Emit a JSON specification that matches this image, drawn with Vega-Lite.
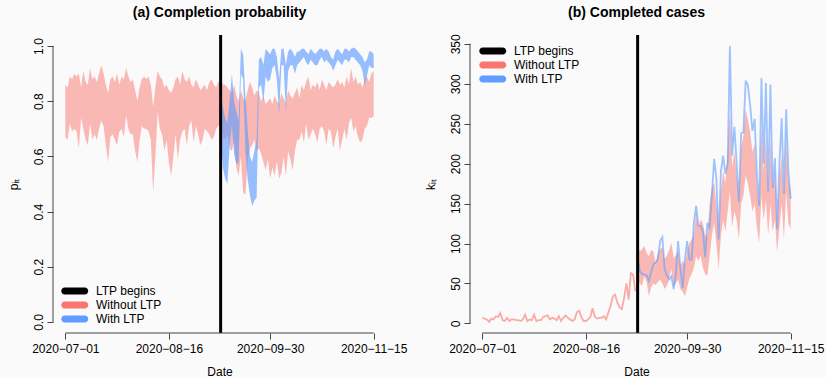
{
"$schema":"https://vega.github.io/schema/vega-lite/v6.json",
"background":"#fafafa",
"padding":{"left":7,"top":5,"right":5,"bottom":5},
"config":{"font":"Liberation Sans","view":{"stroke":null},
 "axis":{"grid":false,"domain":false,"tickColor":"#444","tickSize":6,"labelFontSize":12,"labelColor":"black","titleFontSize":12,"titleFontWeight":"normal","titleColor":"black","labelFont":"Liberation Sans","titleFont":"Liberation Sans","labelFlush":false,"labelOverlap":false},
 "legend":{"title":null,"symbolType":"M-0.48,-0.52 L2.48,-0.52 A0.52,0.52 0 0 1 2.48,0.52 L-0.48,0.52 A0.52,0.52 0 0 1 -0.48,-0.52 Z","symbolSize":182,"symbolOpacity":1,"symbolStrokeWidth":0,"labelFontSize":12,"labelFont":"Liberation Sans","labelColor":"black","rowPadding":1,"labelOffset":21,"padding":0},
 "title":{"fontSize":14,"font":"Liberation Sans","fontWeight":"bold","color":"black"}},
"datasets":{
"left":[
{"t":"2020-07-01","s":"Without LTP","lo":0.67,"hi":0.86},{"t":"2020-07-02","s":"Without LTP","lo":0.66,"hi":0.85},{"t":"2020-07-03","s":"Without LTP","lo":0.72,"hi":0.89},{"t":"2020-07-04","s":"Without LTP","lo":0.69,"hi":0.88},{"t":"2020-07-05","s":"Without LTP","lo":0.70,"hi":0.90},{"t":"2020-07-06","s":"Without LTP","lo":0.69,"hi":0.89},{"t":"2020-07-07","s":"Without LTP","lo":0.63,"hi":0.90},{"t":"2020-07-08","s":"Without LTP","lo":0.74,"hi":0.85},{"t":"2020-07-09","s":"Without LTP","lo":0.70,"hi":0.91},{"t":"2020-07-10","s":"Without LTP","lo":0.66,"hi":0.87},
{"t":"2020-07-11","s":"Without LTP","lo":0.64,"hi":0.86},{"t":"2020-07-12","s":"Without LTP","lo":0.72,"hi":0.92},{"t":"2020-07-13","s":"Without LTP","lo":0.66,"hi":0.88},{"t":"2020-07-14","s":"Without LTP","lo":0.68,"hi":0.89},{"t":"2020-07-15","s":"Without LTP","lo":0.66,"hi":0.87},{"t":"2020-07-16","s":"Without LTP","lo":0.70,"hi":0.90},{"t":"2020-07-17","s":"Without LTP","lo":0.73,"hi":0.93},{"t":"2020-07-18","s":"Without LTP","lo":0.71,"hi":0.90},{"t":"2020-07-19","s":"Without LTP","lo":0.64,"hi":0.86},{"t":"2020-07-20","s":"Without LTP","lo":0.58,"hi":0.83},
{"t":"2020-07-21","s":"Without LTP","lo":0.67,"hi":0.88},{"t":"2020-07-22","s":"Without LTP","lo":0.68,"hi":0.89},{"t":"2020-07-23","s":"Without LTP","lo":0.66,"hi":0.87},{"t":"2020-07-24","s":"Without LTP","lo":0.64,"hi":0.90},{"t":"2020-07-25","s":"Without LTP","lo":0.69,"hi":0.86},{"t":"2020-07-26","s":"Without LTP","lo":0.70,"hi":0.89},{"t":"2020-07-27","s":"Without LTP","lo":0.67,"hi":0.88},{"t":"2020-07-28","s":"Without LTP","lo":0.75,"hi":0.92},{"t":"2020-07-29","s":"Without LTP","lo":0.70,"hi":0.89},{"t":"2020-07-30","s":"Without LTP","lo":0.68,"hi":0.87},
{"t":"2020-07-31","s":"Without LTP","lo":0.68,"hi":0.88},{"t":"2020-08-01","s":"Without LTP","lo":0.62,"hi":0.84},{"t":"2020-08-02","s":"Without LTP","lo":0.58,"hi":0.80},{"t":"2020-08-03","s":"Without LTP","lo":0.66,"hi":0.85},{"t":"2020-08-04","s":"Without LTP","lo":0.71,"hi":0.88},{"t":"2020-08-05","s":"Without LTP","lo":0.70,"hi":0.89},{"t":"2020-08-06","s":"Without LTP","lo":0.70,"hi":0.88},{"t":"2020-08-07","s":"Without LTP","lo":0.69,"hi":0.89},{"t":"2020-08-08","s":"Without LTP","lo":0.66,"hi":0.86},{"t":"2020-08-09","s":"Without LTP","lo":0.47,"hi":0.78},
{"t":"2020-08-10","s":"Without LTP","lo":0.60,"hi":0.85},{"t":"2020-08-11","s":"Without LTP","lo":0.76,"hi":0.91},{"t":"2020-08-12","s":"Without LTP","lo":0.70,"hi":0.89},{"t":"2020-08-13","s":"Without LTP","lo":0.68,"hi":0.88},{"t":"2020-08-14","s":"Without LTP","lo":0.62,"hi":0.85},{"t":"2020-08-15","s":"Without LTP","lo":0.66,"hi":0.86},{"t":"2020-08-16","s":"Without LTP","lo":0.58,"hi":0.84},{"t":"2020-08-17","s":"Without LTP","lo":0.53,"hi":0.83},{"t":"2020-08-18","s":"Without LTP","lo":0.60,"hi":0.85},{"t":"2020-08-19","s":"Without LTP","lo":0.68,"hi":0.88},
{"t":"2020-08-20","s":"Without LTP","lo":0.59,"hi":0.89},{"t":"2020-08-21","s":"Without LTP","lo":0.66,"hi":0.86},{"t":"2020-08-22","s":"Without LTP","lo":0.69,"hi":0.91},{"t":"2020-08-23","s":"Without LTP","lo":0.70,"hi":0.88},{"t":"2020-08-24","s":"Without LTP","lo":0.64,"hi":0.87},{"t":"2020-08-25","s":"Without LTP","lo":0.71,"hi":0.89},{"t":"2020-08-26","s":"Without LTP","lo":0.73,"hi":0.86},{"t":"2020-08-27","s":"Without LTP","lo":0.65,"hi":0.85},{"t":"2020-08-28","s":"Without LTP","lo":0.71,"hi":0.88},{"t":"2020-08-29","s":"Without LTP","lo":0.68,"hi":0.86},
{"t":"2020-08-30","s":"Without LTP","lo":0.64,"hi":0.84},{"t":"2020-08-31","s":"Without LTP","lo":0.66,"hi":0.85},{"t":"2020-09-01","s":"Without LTP","lo":0.70,"hi":0.86},{"t":"2020-09-02","s":"Without LTP","lo":0.69,"hi":0.84},{"t":"2020-09-03","s":"Without LTP","lo":0.68,"hi":0.87},{"t":"2020-09-04","s":"Without LTP","lo":0.66,"hi":0.88},{"t":"2020-09-05","s":"Without LTP","lo":0.67,"hi":0.86},{"t":"2020-09-06","s":"Without LTP","lo":0.70,"hi":0.85},{"t":"2020-09-07","s":"Without LTP","lo":0.71,"hi":0.87},{"t":"2020-09-08","s":"Without LTP","lo":0.71,"hi":0.88},
{"t":"2020-09-09","s":"Without LTP","lo":0.67,"hi":0.86},{"t":"2020-09-10","s":"Without LTP","lo":0.66,"hi":0.86},{"t":"2020-09-11","s":"Without LTP","lo":0.68,"hi":0.85},{"t":"2020-09-12","s":"Without LTP","lo":0.63,"hi":0.84},{"t":"2020-09-13","s":"Without LTP","lo":0.62,"hi":0.83},{"t":"2020-09-14","s":"Without LTP","lo":0.66,"hi":0.86},{"t":"2020-09-15","s":"Without LTP","lo":0.56,"hi":0.82},{"t":"2020-09-16","s":"Without LTP","lo":0.53,"hi":0.80},{"t":"2020-09-17","s":"Without LTP","lo":0.60,"hi":0.84},{"t":"2020-09-18","s":"Without LTP","lo":0.47,"hi":0.81},
{"t":"2020-09-19","s":"Without LTP","lo":0.46,"hi":0.80},{"t":"2020-09-20","s":"Without LTP","lo":0.58,"hi":0.84},{"t":"2020-09-21","s":"Without LTP","lo":0.63,"hi":0.87},{"t":"2020-09-22","s":"Without LTP","lo":0.64,"hi":0.85},{"t":"2020-09-23","s":"Without LTP","lo":0.66,"hi":0.82},{"t":"2020-09-24","s":"Without LTP","lo":0.62,"hi":0.84},{"t":"2020-09-25","s":"Without LTP","lo":0.63,"hi":0.83},{"t":"2020-09-26","s":"Without LTP","lo":0.61,"hi":0.80},{"t":"2020-09-27","s":"Without LTP","lo":0.58,"hi":0.82},{"t":"2020-09-28","s":"Without LTP","lo":0.55,"hi":0.79},
{"t":"2020-09-29","s":"Without LTP","lo":0.59,"hi":0.80},{"t":"2020-09-30","s":"Without LTP","lo":0.52,"hi":0.81},{"t":"2020-10-01","s":"Without LTP","lo":0.56,"hi":0.79},{"t":"2020-10-02","s":"Without LTP","lo":0.53,"hi":0.82},{"t":"2020-10-03","s":"Without LTP","lo":0.58,"hi":0.80},{"t":"2020-10-04","s":"Without LTP","lo":0.52,"hi":0.79},{"t":"2020-10-05","s":"Without LTP","lo":0.54,"hi":0.83},{"t":"2020-10-06","s":"Without LTP","lo":0.60,"hi":0.81},{"t":"2020-10-07","s":"Without LTP","lo":0.53,"hi":0.79},{"t":"2020-10-08","s":"Without LTP","lo":0.62,"hi":0.84},
{"t":"2020-10-09","s":"Without LTP","lo":0.59,"hi":0.82},{"t":"2020-10-10","s":"Without LTP","lo":0.55,"hi":0.81},{"t":"2020-10-11","s":"Without LTP","lo":0.62,"hi":0.83},{"t":"2020-10-12","s":"Without LTP","lo":0.66,"hi":0.85},{"t":"2020-10-13","s":"Without LTP","lo":0.66,"hi":0.81},{"t":"2020-10-14","s":"Without LTP","lo":0.69,"hi":0.86},{"t":"2020-10-15","s":"Without LTP","lo":0.65,"hi":0.84},{"t":"2020-10-16","s":"Without LTP","lo":0.72,"hi":0.87},{"t":"2020-10-17","s":"Without LTP","lo":0.66,"hi":0.89},{"t":"2020-10-18","s":"Without LTP","lo":0.68,"hi":0.84},
{"t":"2020-10-19","s":"Without LTP","lo":0.70,"hi":0.86},{"t":"2020-10-20","s":"Without LTP","lo":0.68,"hi":0.85},{"t":"2020-10-21","s":"Without LTP","lo":0.65,"hi":0.87},{"t":"2020-10-22","s":"Without LTP","lo":0.70,"hi":0.84},{"t":"2020-10-23","s":"Without LTP","lo":0.71,"hi":0.88},{"t":"2020-10-24","s":"Without LTP","lo":0.69,"hi":0.86},{"t":"2020-10-25","s":"Without LTP","lo":0.64,"hi":0.84},{"t":"2020-10-26","s":"Without LTP","lo":0.70,"hi":0.87},{"t":"2020-10-27","s":"Without LTP","lo":0.69,"hi":0.86},{"t":"2020-10-28","s":"Without LTP","lo":0.63,"hi":0.85},
{"t":"2020-10-29","s":"Without LTP","lo":0.67,"hi":0.86},{"t":"2020-10-30","s":"Without LTP","lo":0.70,"hi":0.88},{"t":"2020-10-31","s":"Without LTP","lo":0.62,"hi":0.86},{"t":"2020-11-01","s":"Without LTP","lo":0.66,"hi":0.87},{"t":"2020-11-02","s":"Without LTP","lo":0.70,"hi":0.85},{"t":"2020-11-03","s":"Without LTP","lo":0.66,"hi":0.89},{"t":"2020-11-04","s":"Without LTP","lo":0.72,"hi":0.86},{"t":"2020-11-05","s":"Without LTP","lo":0.74,"hi":0.92},{"t":"2020-11-06","s":"Without LTP","lo":0.69,"hi":0.87},{"t":"2020-11-07","s":"Without LTP","lo":0.71,"hi":0.89},
{"t":"2020-11-08","s":"Without LTP","lo":0.67,"hi":0.86},{"t":"2020-11-09","s":"Without LTP","lo":0.65,"hi":0.87},{"t":"2020-11-10","s":"Without LTP","lo":0.66,"hi":0.85},{"t":"2020-11-11","s":"Without LTP","lo":0.70,"hi":0.88},{"t":"2020-11-12","s":"Without LTP","lo":0.71,"hi":0.89},{"t":"2020-11-13","s":"Without LTP","lo":0.74,"hi":0.87},{"t":"2020-11-14","s":"Without LTP","lo":0.74,"hi":0.90},{"t":"2020-11-15","s":"Without LTP","lo":0.745,"hi":0.91},
{"t":"2020-09-08","s":"With LTP","lo":0.68,"hi":0.84},{"t":"2020-09-09","s":"With LTP","lo":0.56,"hi":0.78},{"t":"2020-09-10","s":"With LTP","lo":0.52,"hi":0.74},{"t":"2020-09-11","s":"With LTP","lo":0.50,"hi":0.72},{"t":"2020-09-12","s":"With LTP","lo":0.64,"hi":0.80},{"t":"2020-09-13","s":"With LTP","lo":0.71,"hi":0.90},{"t":"2020-09-14","s":"With LTP","lo":0.61,"hi":0.80},{"t":"2020-09-15","s":"With LTP","lo":0.57,"hi":0.76},{"t":"2020-09-16","s":"With LTP","lo":0.58,"hi":0.73},{"t":"2020-09-17","s":"With LTP","lo":0.90,"hi":0.99},
{"t":"2020-09-18","s":"With LTP","lo":0.88,"hi":0.97},{"t":"2020-09-19","s":"With LTP","lo":0.62,"hi":0.82},{"t":"2020-09-20","s":"With LTP","lo":0.52,"hi":0.70},{"t":"2020-09-21","s":"With LTP","lo":0.46,"hi":0.60},{"t":"2020-09-22","s":"With LTP","lo":0.42,"hi":0.58},{"t":"2020-09-23","s":"With LTP","lo":0.44,"hi":0.62},{"t":"2020-09-24","s":"With LTP","lo":0.45,"hi":0.66},{"t":"2020-09-25","s":"With LTP","lo":0.85,"hi":0.95},{"t":"2020-09-26","s":"With LTP","lo":0.86,"hi":0.96},{"t":"2020-09-27","s":"With LTP","lo":0.80,"hi":0.93},
{"t":"2020-09-28","s":"With LTP","lo":0.89,"hi":0.99},{"t":"2020-09-29","s":"With LTP","lo":0.87,"hi":0.98},{"t":"2020-09-30","s":"With LTP","lo":0.88,"hi":0.97},{"t":"2020-10-01","s":"With LTP","lo":0.92,"hi":0.99},{"t":"2020-10-02","s":"With LTP","lo":0.93,"hi":0.99},{"t":"2020-10-03","s":"With LTP","lo":0.88,"hi":0.96},{"t":"2020-10-04","s":"With LTP","lo":0.75,"hi":0.88},{"t":"2020-10-05","s":"With LTP","lo":0.93,"hi":0.99},{"t":"2020-10-06","s":"With LTP","lo":0.93,"hi":0.99},{"t":"2020-10-07","s":"With LTP","lo":0.76,"hi":0.93},
{"t":"2020-10-08","s":"With LTP","lo":0.91,"hi":0.98},{"t":"2020-10-09","s":"With LTP","lo":0.93,"hi":0.99},{"t":"2020-10-10","s":"With LTP","lo":0.93,"hi":0.98},{"t":"2020-10-11","s":"With LTP","lo":0.90,"hi":0.96},{"t":"2020-10-12","s":"With LTP","lo":0.93,"hi":0.98},{"t":"2020-10-13","s":"With LTP","lo":0.94,"hi":0.98},{"t":"2020-10-14","s":"With LTP","lo":0.95,"hi":0.99},{"t":"2020-10-15","s":"With LTP","lo":0.96,"hi":0.99},{"t":"2020-10-16","s":"With LTP","lo":0.94,"hi":0.98},{"t":"2020-10-17","s":"With LTP","lo":0.93,"hi":0.97},
{"t":"2020-10-18","s":"With LTP","lo":0.95,"hi":0.99},{"t":"2020-10-19","s":"With LTP","lo":0.94,"hi":0.98},{"t":"2020-10-20","s":"With LTP","lo":0.93,"hi":0.97},{"t":"2020-10-21","s":"With LTP","lo":0.93,"hi":0.98},{"t":"2020-10-22","s":"With LTP","lo":0.95,"hi":0.99},{"t":"2020-10-23","s":"With LTP","lo":0.96,"hi":0.99},{"t":"2020-10-24","s":"With LTP","lo":0.94,"hi":0.98},{"t":"2020-10-25","s":"With LTP","lo":0.95,"hi":0.99},{"t":"2020-10-26","s":"With LTP","lo":0.94,"hi":0.98},{"t":"2020-10-27","s":"With LTP","lo":0.93,"hi":0.96},
{"t":"2020-10-28","s":"With LTP","lo":0.91,"hi":0.95},{"t":"2020-10-29","s":"With LTP","lo":0.93,"hi":0.98},{"t":"2020-10-30","s":"With LTP","lo":0.95,"hi":0.99},{"t":"2020-10-31","s":"With LTP","lo":0.94,"hi":0.98},{"t":"2020-11-01","s":"With LTP","lo":0.93,"hi":0.97},{"t":"2020-11-02","s":"With LTP","lo":0.95,"hi":0.99},{"t":"2020-11-03","s":"With LTP","lo":0.95,"hi":0.99},{"t":"2020-11-04","s":"With LTP","lo":0.94,"hi":0.98},{"t":"2020-11-05","s":"With LTP","lo":0.96,"hi":0.99},{"t":"2020-11-06","s":"With LTP","lo":0.96,"hi":0.995},
{"t":"2020-11-07","s":"With LTP","lo":0.95,"hi":0.99},{"t":"2020-11-08","s":"With LTP","lo":0.94,"hi":0.98},{"t":"2020-11-09","s":"With LTP","lo":0.93,"hi":0.97},{"t":"2020-11-10","s":"With LTP","lo":0.91,"hi":0.96},{"t":"2020-11-11","s":"With LTP","lo":0.86,"hi":0.94},{"t":"2020-11-12","s":"With LTP","lo":0.89,"hi":0.95},{"t":"2020-11-13","s":"With LTP","lo":0.93,"hi":0.98},{"t":"2020-11-14","s":"With LTP","lo":0.92,"hi":0.98},{"t":"2020-11-15","s":"With LTP","lo":0.92,"hi":0.97}
],
"right":[
{"t":"2020-07-01","s":"Without LTP","k":"line","v":7},{"t":"2020-07-02","s":"Without LTP","k":"line","v":6},{"t":"2020-07-03","s":"Without LTP","k":"line","v":5},{"t":"2020-07-04","s":"Without LTP","k":"line","v":2},{"t":"2020-07-05","s":"Without LTP","k":"line","v":6},{"t":"2020-07-06","s":"Without LTP","k":"line","v":5},{"t":"2020-07-07","s":"Without LTP","k":"line","v":9},{"t":"2020-07-08","s":"Without LTP","k":"line","v":8},{"t":"2020-07-09","s":"Without LTP","k":"line","v":13},{"t":"2020-07-10","s":"Without LTP","k":"line","v":4},
{"t":"2020-07-11","s":"Without LTP","k":"line","v":3},{"t":"2020-07-12","s":"Without LTP","k":"line","v":7},{"t":"2020-07-13","s":"Without LTP","k":"line","v":3},{"t":"2020-07-14","s":"Without LTP","k":"line","v":5},{"t":"2020-07-15","s":"Without LTP","k":"line","v":5},{"t":"2020-07-16","s":"Without LTP","k":"line","v":4},{"t":"2020-07-17","s":"Without LTP","k":"line","v":4},{"t":"2020-07-18","s":"Without LTP","k":"line","v":3},{"t":"2020-07-19","s":"Without LTP","k":"line","v":5},{"t":"2020-07-20","s":"Without LTP","k":"line","v":11},
{"t":"2020-07-21","s":"Without LTP","k":"line","v":3},{"t":"2020-07-22","s":"Without LTP","k":"line","v":5},{"t":"2020-07-23","s":"Without LTP","k":"line","v":4},{"t":"2020-07-24","s":"Without LTP","k":"line","v":11},{"t":"2020-07-25","s":"Without LTP","k":"line","v":3},{"t":"2020-07-26","s":"Without LTP","k":"line","v":4},{"t":"2020-07-27","s":"Without LTP","k":"line","v":4},{"t":"2020-07-28","s":"Without LTP","k":"line","v":8},{"t":"2020-07-29","s":"Without LTP","k":"line","v":9},{"t":"2020-07-30","s":"Without LTP","k":"line","v":10},
{"t":"2020-07-31","s":"Without LTP","k":"line","v":5},{"t":"2020-08-01","s":"Without LTP","k":"line","v":7},{"t":"2020-08-02","s":"Without LTP","k":"line","v":6},{"t":"2020-08-03","s":"Without LTP","k":"line","v":4},{"t":"2020-08-04","s":"Without LTP","k":"line","v":9},{"t":"2020-08-05","s":"Without LTP","k":"line","v":3},{"t":"2020-08-06","s":"Without LTP","k":"line","v":7},{"t":"2020-08-07","s":"Without LTP","k":"line","v":10},{"t":"2020-08-08","s":"Without LTP","k":"line","v":7},{"t":"2020-08-09","s":"Without LTP","k":"line","v":5},
{"t":"2020-08-10","s":"Without LTP","k":"line","v":3},{"t":"2020-08-11","s":"Without LTP","k":"line","v":5},{"t":"2020-08-12","s":"Without LTP","k":"line","v":14},{"t":"2020-08-13","s":"Without LTP","k":"line","v":16},{"t":"2020-08-14","s":"Without LTP","k":"line","v":8},{"t":"2020-08-15","s":"Without LTP","k":"line","v":3},{"t":"2020-08-16","s":"Without LTP","k":"line","v":3},{"t":"2020-08-17","s":"Without LTP","k":"line","v":5},{"t":"2020-08-18","s":"Without LTP","k":"line","v":8},{"t":"2020-08-19","s":"Without LTP","k":"line","v":19},
{"t":"2020-08-20","s":"Without LTP","k":"line","v":8},{"t":"2020-08-21","s":"Without LTP","k":"line","v":6},{"t":"2020-08-22","s":"Without LTP","k":"line","v":7},{"t":"2020-08-23","s":"Without LTP","k":"line","v":7},{"t":"2020-08-24","s":"Without LTP","k":"line","v":9},{"t":"2020-08-25","s":"Without LTP","k":"line","v":5},{"t":"2020-08-26","s":"Without LTP","k":"line","v":14},{"t":"2020-08-27","s":"Without LTP","k":"line","v":22},{"t":"2020-08-28","s":"Without LTP","k":"line","v":34},{"t":"2020-08-29","s":"Without LTP","k":"line","v":36},
{"t":"2020-08-30","s":"Without LTP","k":"line","v":26},{"t":"2020-08-31","s":"Without LTP","k":"line","v":20},{"t":"2020-09-01","s":"Without LTP","k":"line","v":18},{"t":"2020-09-02","s":"Without LTP","k":"line","v":32},{"t":"2020-09-03","s":"Without LTP","k":"line","v":50},{"t":"2020-09-04","s":"Without LTP","k":"line","v":30},{"t":"2020-09-05","s":"Without LTP","k":"line","v":63},{"t":"2020-09-06","s":"Without LTP","k":"line","v":61},{"t":"2020-09-07","s":"Without LTP","k":"line","v":40},
{"t":"2020-09-08","s":"Without LTP","k":"band","lo":55,"hi":97},{"t":"2020-09-09","s":"Without LTP","k":"band","lo":50,"hi":90},{"t":"2020-09-10","s":"Without LTP","k":"band","lo":47,"hi":93},{"t":"2020-09-11","s":"Without LTP","k":"band","lo":59,"hi":97},{"t":"2020-09-12","s":"Without LTP","k":"band","lo":52,"hi":88},{"t":"2020-09-13","s":"Without LTP","k":"band","lo":34,"hi":84},{"t":"2020-09-14","s":"Without LTP","k":"band","lo":45,"hi":92},{"t":"2020-09-15","s":"Without LTP","k":"band","lo":50,"hi":90},{"t":"2020-09-16","s":"Without LTP","k":"band","lo":48,"hi":76},{"t":"2020-09-17","s":"Without LTP","k":"band","lo":52,"hi":88},
{"t":"2020-09-18","s":"Without LTP","k":"band","lo":55,"hi":93},{"t":"2020-09-19","s":"Without LTP","k":"band","lo":50,"hi":95},{"t":"2020-09-20","s":"Without LTP","k":"band","lo":43,"hi":80},{"t":"2020-09-21","s":"Without LTP","k":"band","lo":47,"hi":85},{"t":"2020-09-22","s":"Without LTP","k":"band","lo":55,"hi":92},{"t":"2020-09-23","s":"Without LTP","k":"band","lo":68,"hi":101},{"t":"2020-09-24","s":"Without LTP","k":"band","lo":46,"hi":82},{"t":"2020-09-25","s":"Without LTP","k":"band","lo":50,"hi":85},{"t":"2020-09-26","s":"Without LTP","k":"band","lo":55,"hi":90},{"t":"2020-09-27","s":"Without LTP","k":"band","lo":43,"hi":72},
{"t":"2020-09-28","s":"Without LTP","k":"band","lo":40,"hi":78},{"t":"2020-09-29","s":"Without LTP","k":"band","lo":34,"hi":74},{"t":"2020-09-30","s":"Without LTP","k":"band","lo":45,"hi":90},{"t":"2020-10-01","s":"Without LTP","k":"band","lo":56,"hi":100},{"t":"2020-10-02","s":"Without LTP","k":"band","lo":62,"hi":105},{"t":"2020-10-03","s":"Without LTP","k":"band","lo":70,"hi":110},{"t":"2020-10-04","s":"Without LTP","k":"band","lo":84,"hi":140},{"t":"2020-10-05","s":"Without LTP","k":"band","lo":78,"hi":120},{"t":"2020-10-06","s":"Without LTP","k":"band","lo":85,"hi":130},{"t":"2020-10-07","s":"Without LTP","k":"band","lo":70,"hi":125},
{"t":"2020-10-08","s":"Without LTP","k":"band","lo":62,"hi":110},{"t":"2020-10-09","s":"Without LTP","k":"band","lo":60,"hi":110},{"t":"2020-10-10","s":"Without LTP","k":"band","lo":85,"hi":150},{"t":"2020-10-11","s":"Without LTP","k":"band","lo":110,"hi":170},{"t":"2020-10-12","s":"Without LTP","k":"band","lo":126,"hi":176},{"t":"2020-10-13","s":"Without LTP","k":"band","lo":100,"hi":150},{"t":"2020-10-14","s":"Without LTP","k":"band","lo":68,"hi":120},{"t":"2020-10-15","s":"Without LTP","k":"band","lo":110,"hi":165},{"t":"2020-10-16","s":"Without LTP","k":"band","lo":130,"hi":190},{"t":"2020-10-17","s":"Without LTP","k":"band","lo":115,"hi":175},
{"t":"2020-10-18","s":"Without LTP","k":"band","lo":140,"hi":215},{"t":"2020-10-19","s":"Without LTP","k":"band","lo":165,"hi":265},{"t":"2020-10-20","s":"Without LTP","k":"band","lo":120,"hi":195},{"t":"2020-10-21","s":"Without LTP","k":"band","lo":140,"hi":215},{"t":"2020-10-22","s":"Without LTP","k":"band","lo":130,"hi":185},{"t":"2020-10-23","s":"Without LTP","k":"band","lo":105,"hi":165},{"t":"2020-10-24","s":"Without LTP","k":"band","lo":150,"hi":220},{"t":"2020-10-25","s":"Without LTP","k":"band","lo":160,"hi":235},{"t":"2020-10-26","s":"Without LTP","k":"band","lo":185,"hi":268},{"t":"2020-10-27","s":"Without LTP","k":"band","lo":175,"hi":255},
{"t":"2020-10-28","s":"Without LTP","k":"band","lo":160,"hi":240},{"t":"2020-10-29","s":"Without LTP","k":"band","lo":140,"hi":215},{"t":"2020-10-30","s":"Without LTP","k":"band","lo":150,"hi":225},{"t":"2020-10-31","s":"Without LTP","k":"band","lo":120,"hi":170},{"t":"2020-11-01","s":"Without LTP","k":"band","lo":100,"hi":150},{"t":"2020-11-02","s":"Without LTP","k":"band","lo":160,"hi":245},{"t":"2020-11-03","s":"Without LTP","k":"band","lo":130,"hi":190},{"t":"2020-11-04","s":"Without LTP","k":"band","lo":155,"hi":235},{"t":"2020-11-05","s":"Without LTP","k":"band","lo":110,"hi":165},{"t":"2020-11-06","s":"Without LTP","k":"band","lo":150,"hi":230},
{"t":"2020-11-07","s":"Without LTP","k":"band","lo":115,"hi":170},{"t":"2020-11-08","s":"Without LTP","k":"band","lo":130,"hi":190},{"t":"2020-11-09","s":"Without LTP","k":"band","lo":89,"hi":125},{"t":"2020-11-10","s":"Without LTP","k":"band","lo":120,"hi":180},{"t":"2020-11-11","s":"Without LTP","k":"band","lo":150,"hi":210},{"t":"2020-11-12","s":"Without LTP","k":"band","lo":105,"hi":160},{"t":"2020-11-13","s":"Without LTP","k":"band","lo":165,"hi":230},{"t":"2020-11-14","s":"Without LTP","k":"band","lo":125,"hi":180},{"t":"2020-11-15","s":"Without LTP","k":"band","lo":118,"hi":165},
{"t":"2020-09-08","s":"With LTP","k":"line","v":82},{"t":"2020-09-09","s":"With LTP","k":"line","v":65},{"t":"2020-09-10","s":"With LTP","k":"line","v":62},{"t":"2020-09-11","s":"With LTP","k":"line","v":61},{"t":"2020-09-12","s":"With LTP","k":"line","v":60},{"t":"2020-09-13","s":"With LTP","k":"line","v":53},{"t":"2020-09-14","s":"With LTP","k":"line","v":64},{"t":"2020-09-15","s":"With LTP","k":"line","v":74},{"t":"2020-09-16","s":"With LTP","k":"line","v":76},{"t":"2020-09-17","s":"With LTP","k":"line","v":80},
{"t":"2020-09-18","s":"With LTP","k":"line","v":103},{"t":"2020-09-19","s":"With LTP","k":"line","v":108},{"t":"2020-09-20","s":"With LTP","k":"line","v":68},{"t":"2020-09-21","s":"With LTP","k":"line","v":60},{"t":"2020-09-22","s":"With LTP","k":"line","v":55},{"t":"2020-09-23","s":"With LTP","k":"line","v":59},{"t":"2020-09-24","s":"With LTP","k":"line","v":43},{"t":"2020-09-25","s":"With LTP","k":"line","v":62},{"t":"2020-09-26","s":"With LTP","k":"line","v":103},{"t":"2020-09-27","s":"With LTP","k":"line","v":68},
{"t":"2020-09-28","s":"With LTP","k":"line","v":44},{"t":"2020-09-29","s":"With LTP","k":"line","v":80},{"t":"2020-09-30","s":"With LTP","k":"line","v":103},{"t":"2020-10-01","s":"With LTP","k":"line","v":80},{"t":"2020-10-02","s":"With LTP","k":"line","v":80},{"t":"2020-10-03","s":"With LTP","k":"line","v":126},{"t":"2020-10-04","s":"With LTP","k":"line","v":147},{"t":"2020-10-05","s":"With LTP","k":"line","v":122},{"t":"2020-10-06","s":"With LTP","k":"line","v":122},{"t":"2020-10-07","s":"With LTP","k":"line","v":115},
{"t":"2020-10-08","s":"With LTP","k":"line","v":83},{"t":"2020-10-09","s":"With LTP","k":"line","v":126},{"t":"2020-10-10","s":"With LTP","k":"line","v":120},{"t":"2020-10-11","s":"With LTP","k":"line","v":160},{"t":"2020-10-12","s":"With LTP","k":"line","v":206},{"t":"2020-10-13","s":"With LTP","k":"line","v":181},{"t":"2020-10-14","s":"With LTP","k":"line","v":105},{"t":"2020-10-15","s":"With LTP","k":"line","v":190},{"t":"2020-10-16","s":"With LTP","k":"line","v":210},{"t":"2020-10-17","s":"With LTP","k":"line","v":187},
{"t":"2020-10-18","s":"With LTP","k":"line","v":200},{"t":"2020-10-19","s":"With LTP","k":"line","v":347},{"t":"2020-10-20","s":"With LTP","k":"line","v":210},{"t":"2020-10-21","s":"With LTP","k":"line","v":246},{"t":"2020-10-22","s":"With LTP","k":"line","v":200},{"t":"2020-10-23","s":"With LTP","k":"line","v":152},{"t":"2020-10-24","s":"With LTP","k":"line","v":238},{"t":"2020-10-25","s":"With LTP","k":"line","v":239},{"t":"2020-10-26","s":"With LTP","k":"line","v":304},{"t":"2020-10-27","s":"With LTP","k":"line","v":298},
{"t":"2020-10-28","s":"With LTP","k":"line","v":273},{"t":"2020-10-29","s":"With LTP","k":"line","v":241},{"t":"2020-10-30","s":"With LTP","k":"line","v":256},{"t":"2020-10-31","s":"With LTP","k":"line","v":185},{"t":"2020-11-01","s":"With LTP","k":"line","v":147},{"t":"2020-11-02","s":"With LTP","k":"line","v":307},{"t":"2020-11-03","s":"With LTP","k":"line","v":200},{"t":"2020-11-04","s":"With LTP","k":"line","v":301},{"t":"2020-11-05","s":"With LTP","k":"line","v":165},{"t":"2020-11-06","s":"With LTP","k":"line","v":299},
{"t":"2020-11-07","s":"With LTP","k":"line","v":170},{"t":"2020-11-08","s":"With LTP","k":"line","v":207},{"t":"2020-11-09","s":"With LTP","k":"line","v":118},{"t":"2020-11-10","s":"With LTP","k":"line","v":200},{"t":"2020-11-11","s":"With LTP","k":"line","v":257},{"t":"2020-11-12","s":"With LTP","k":"line","v":162},{"t":"2020-11-13","s":"With LTP","k":"line","v":268},{"t":"2020-11-14","s":"With LTP","k":"line","v":190},{"t":"2020-11-15","s":"With LTP","k":"line","v":156}
],
"ltp":[{"t":"2020-09-08","s":"LTP begins"}],
"frame":[{"f":1}]
},
"bounds":"flush",
"spacing":84,
"resolve":{"scale":{"color":"independent"},"legend":{"color":"independent"}},
"hconcat":[
{"width":333,"height":298,
 "title":{"text":"(a) Completion probability","offset":14},
 "layer":[
  {"data":{"name":"left"},"transform":[{"filter":"datum.s=='Without LTP'"}],"mark":{"type":"area","opacity":0.5},
   "encoding":{
    "x":{"field":"t","type":"temporal","scale":{"type":"utc","domain":[{"year":2020,"month":6,"date":25,"hours":12,"minutes":30,"utc":true},{"year":2020,"month":11,"date":20,"hours":11,"minutes":30,"utc":true}]},
      "axis":{"title":"Date","format":"%Y\u2212%m\u2212%d","labelPadding":4,"titlePadding":12,
       "values":[{"year":2020,"month":7,"date":1,"utc":true},{"year":2020,"month":8,"date":16,"utc":true},{"year":2020,"month":9,"date":30,"utc":true},{"year":2020,"month":11,"date":15,"utc":true}]}},
    "y":{"field":"lo","type":"quantitative","scale":{"domain":[-0.04,1.04],"nice":false,"zero":false},
      "axis":{"title":"p\u1d62\u209c","values":[0,0.2,0.4,0.6,0.8,1],"format":".1f","labelAngle":-90,"labelAlign":"center","labelBaseline":"bottom","labelPadding":2,"titlePadding":12}},
    "y2":{"field":"hi"},
    "color":{"field":"s","type":"nominal","legend":{"orient":"bottom-left","offset":8},"scale":{"domain":["LTP begins","Without LTP","With LTP"],"range":["black","#F8766D","#619CFF"]}}}},
  {"data":{"name":"left"},"transform":[{"filter":"datum.s=='With LTP'"}],"mark":{"type":"area","opacity":0.65},
   "encoding":{"x":{"field":"t","type":"temporal"},"y":{"field":"lo","type":"quantitative"},"y2":{"field":"hi"},
    "color":{"field":"s","type":"nominal","legend":{"orient":"bottom-left","offset":8}}}},
  {"data":{"name":"ltp"},"mark":{"type":"rule","strokeWidth":3},
   "encoding":{"x":{"field":"t","type":"temporal"},
    "color":{"field":"s","type":"nominal","legend":null}}},
  {"data":{"name":"frame"},"mark":{"type":"rule","color":"#444","strokeWidth":1},
   "encoding":{"x":{"datum":{"year":2020,"month":7,"date":1,"utc":true},"type":"temporal"},"x2":{"datum":{"year":2020,"month":11,"date":15,"utc":true}},"y":{"datum":-0.04,"type":"quantitative"}}},
  {"data":{"name":"frame"},"mark":{"type":"rule","color":"#444","strokeWidth":1},
   "encoding":{"x":{"datum":{"year":2020,"month":6,"date":25,"hours":12,"minutes":30,"utc":true},"type":"temporal"},"y":{"datum":0,"type":"quantitative"},"y2":{"datum":1}}}
 ]},
{"width":333,"height":298,
 "title":{"text":"(b) Completed cases","offset":14},
 "layer":[
  {"data":{"name":"right"},"transform":[{"filter":"datum.k=='band'"}],"mark":{"type":"area","opacity":0.5},
   "encoding":{
    "x":{"field":"t","type":"temporal","scale":{"type":"utc","domain":[{"year":2020,"month":6,"date":25,"hours":12,"minutes":30,"utc":true},{"year":2020,"month":11,"date":20,"hours":11,"minutes":30,"utc":true}]},
      "axis":{"title":"Date","format":"%Y\u2212%m\u2212%d","labelPadding":4,"titlePadding":12,
       "values":[{"year":2020,"month":7,"date":1,"utc":true},{"year":2020,"month":8,"date":16,"utc":true},{"year":2020,"month":9,"date":30,"utc":true},{"year":2020,"month":11,"date":15,"utc":true}]}},
    "y":{"field":"lo","type":"quantitative","scale":{"domain":[-12,361],"nice":false,"zero":false},
      "axis":{"title":"k\u1d62\u209c","values":[0,50,100,150,200,250,300,350],"labelAngle":-90,"labelAlign":"center","labelBaseline":"bottom","labelPadding":2,"titlePadding":12}},
    "y2":{"field":"hi"},
    "color":{"field":"s","type":"nominal","legend":{"orient":"top-left","offset":9},"scale":{"domain":["LTP begins","Without LTP","With LTP"],"range":["black","#F8766D","#619CFF"]}}}},
  {"data":{"name":"right"},"transform":[{"filter":"datum.k=='line'"}],"mark":{"type":"line","opacity":0.6,"strokeWidth":1.8},
   "encoding":{"x":{"field":"t","type":"temporal"},"y":{"field":"v","type":"quantitative"},
    "color":{"field":"s","type":"nominal","legend":null}}},
  {"data":{"name":"ltp"},"mark":{"type":"rule","strokeWidth":3},
   "encoding":{"x":{"field":"t","type":"temporal"},
    "color":{"field":"s","type":"nominal","legend":null}}},
  {"data":{"name":"frame"},"mark":{"type":"rule","color":"#444","strokeWidth":1},
   "encoding":{"x":{"datum":{"year":2020,"month":7,"date":1,"utc":true},"type":"temporal"},"x2":{"datum":{"year":2020,"month":11,"date":15,"utc":true}},"y":{"datum":-12,"type":"quantitative"}}},
  {"data":{"name":"frame"},"mark":{"type":"rule","color":"#444","strokeWidth":1},
   "encoding":{"x":{"datum":{"year":2020,"month":6,"date":25,"hours":12,"minutes":30,"utc":true},"type":"temporal"},"y":{"datum":0,"type":"quantitative"},"y2":{"datum":350}}}
 ]}
]
}
